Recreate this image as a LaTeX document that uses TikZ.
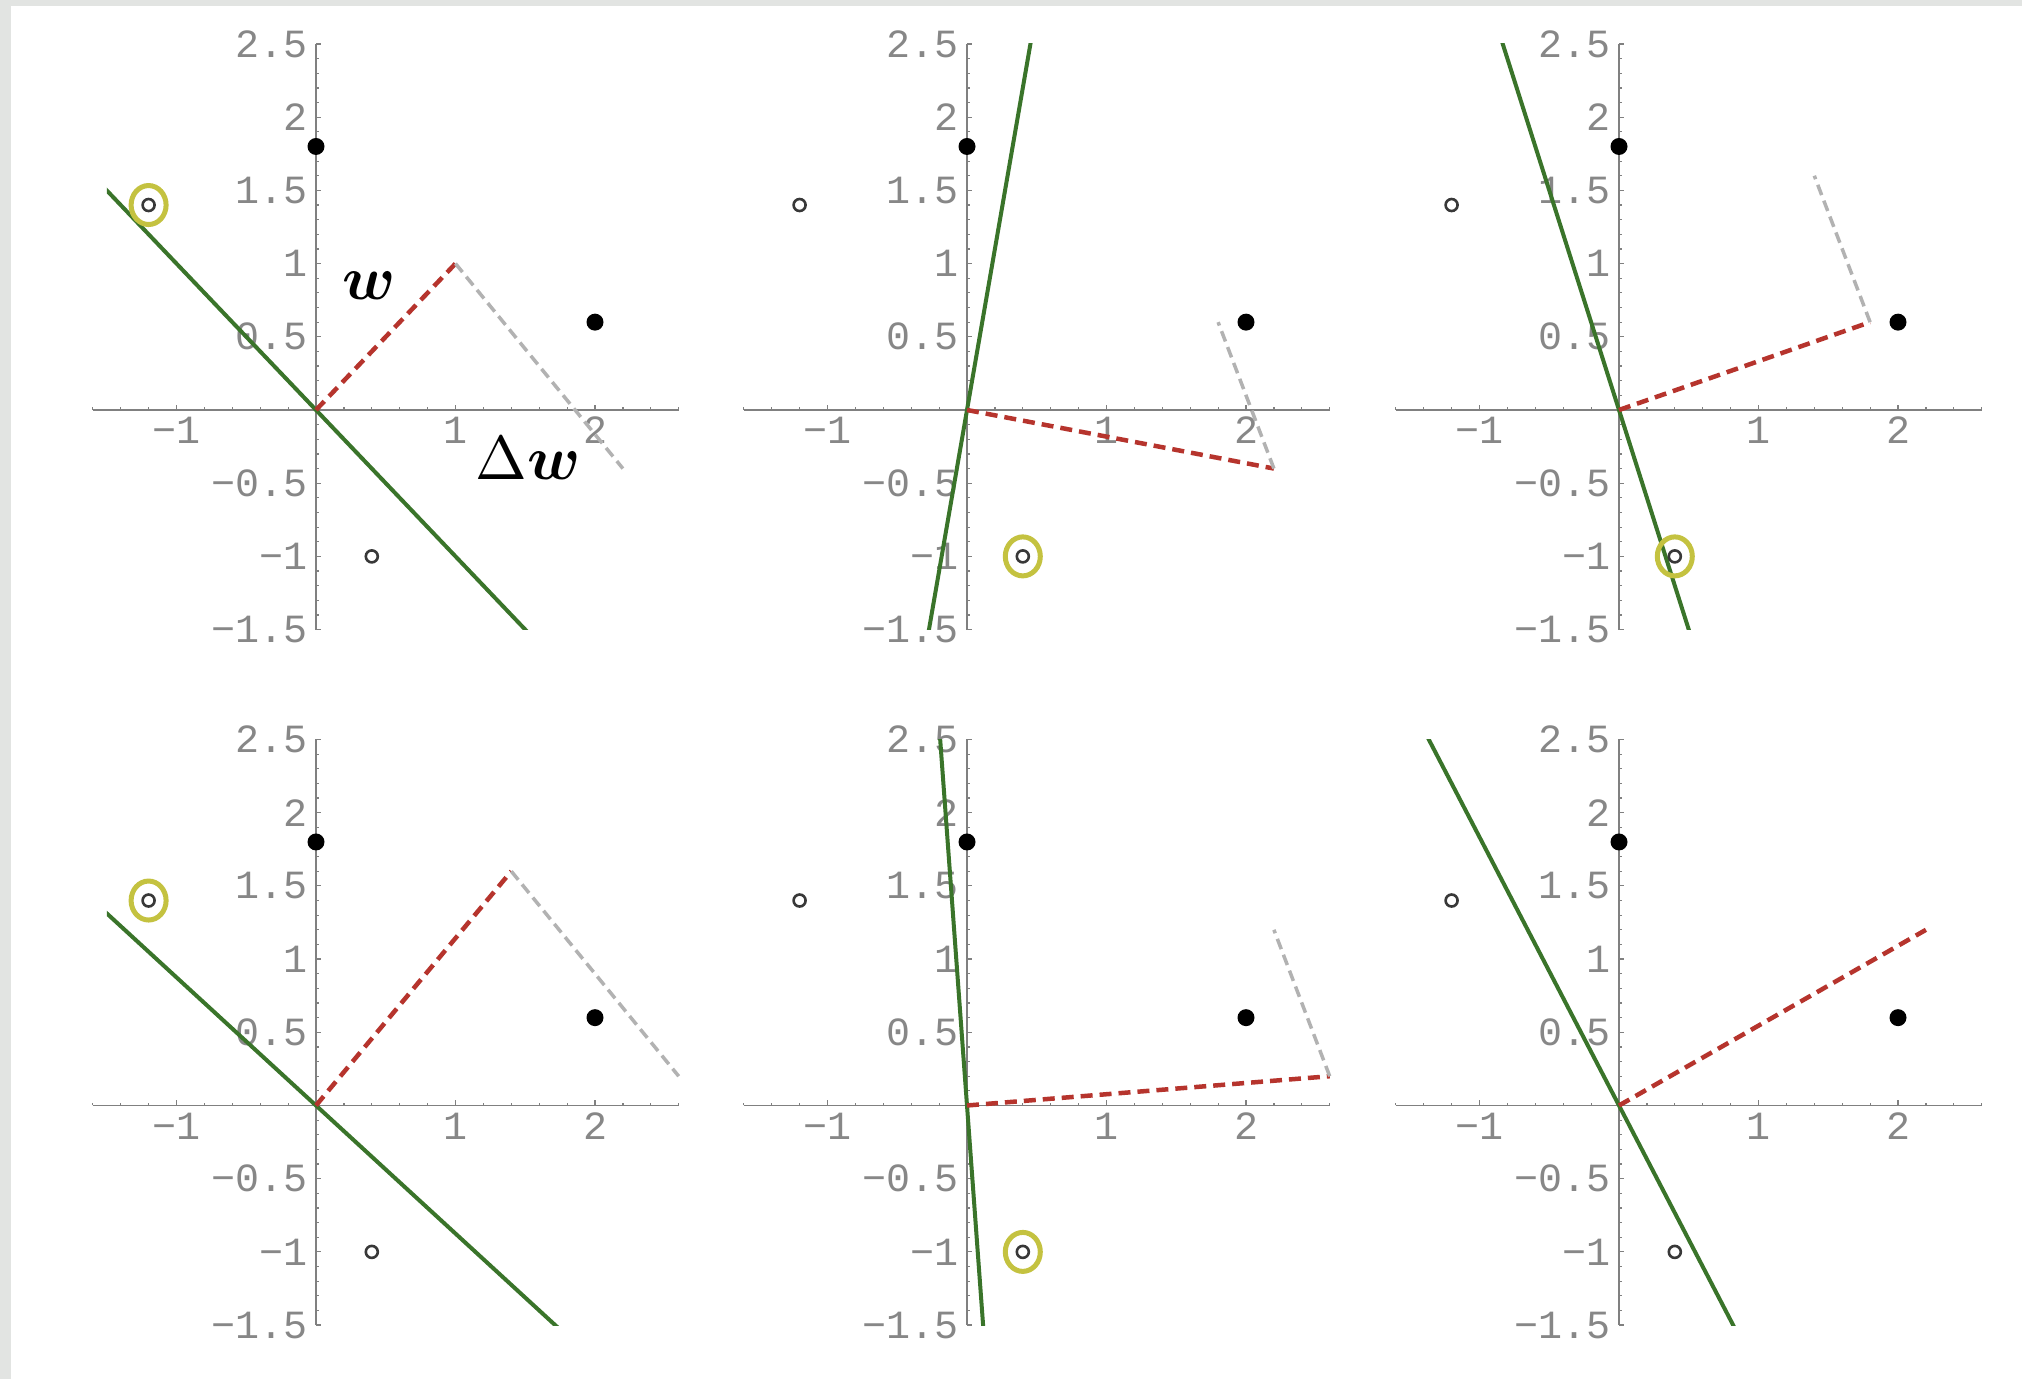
\documentclass[tikz,border=0pt]{standalone}
\usepackage{fontspec}
\usepackage{bm}
\usetikzlibrary{shapes.geometric}
\newfontfamily\tickfont{Liberation Mono}
\definecolor{bggray}{RGB}{226,228,226}
\definecolor{axisgray}{RGB}{128,128,128}
\definecolor{labelgray}{RGB}{135,135,135}
\definecolor{linegreen}{RGB}{58,116,42}
\definecolor{wred}{RGB}{182,52,45}
\definecolor{dwgray}{RGB}{178,178,178}
\definecolor{ringyellow}{RGB}{196,194,64}
\tikzset{
  axisline/.style={draw=axisgray, line width=1.8pt},
  tickmark/.style={draw=axisgray, line width=1.2pt},
  xticklabel/.style={font=\tickfont\fontsize{40}{48}\selectfont, text=labelgray, anchor=base, inner sep=0pt, yshift=-34pt},
  yticklabel/.style={font=\tickfont\fontsize{40}{48}\selectfont, text=labelgray, anchor=east, inner sep=0pt, xshift=-8pt},
  boundary/.style={draw=linegreen, line width=4pt},
  wvec/.style={draw=wred, line width=4.5pt, dash pattern=on 12pt off 7pt},
  dwvec/.style={draw=dwgray, line width=3.5pt, dash pattern=on 11pt off 6pt},
  posdot/.style={circle, fill=black, minimum size=17pt, inner sep=0pt},
  negdot/.style={circle, draw=black!78, fill=white, line width=2.6pt, minimum size=12pt, inner sep=0pt},
  highlight/.style={ellipse, draw=ringyellow, line width=5pt, minimum width=35pt, minimum height=39pt, inner sep=0pt},
  bigmath/.style={inner sep=0pt, scale=6.2},
}
% #1 prefix, #2 wx, #3 wy
\newcommand\panelbody[3]{%
  \draw[axisline] (-1.6,0) -- (2.6,0);
  \draw[axisline] (0,-1.5) -- (0,2.5);
  \foreach \i in {-8,...,13} \draw[tickmark] (\i/5,0) -- ++(0pt,2.5pt);
  \foreach \i in {-1,1,2} \draw[tickmark] (\i,0) -- ++(0pt,5pt);
  \foreach \i in {-15,...,25} \draw[tickmark] (0,\i/10) -- ++(2.5pt,0pt);
  \foreach \i in {-3,...,5} \draw[tickmark] (0,\i/2) -- ++(5pt,0pt);
  \foreach \v/\s [count=\k] in {-1/−1, 1/1, 2/2}
    \node[xticklabel] (#1-x\k) at (\v,0) {\s};
  \foreach \v/\s [count=\k] in {2.5/2.5, 2/2, 1.5/1.5, 1/1, 0.5/0.5, -0.5/−0.5, -1/−1, -1.5/−1.5}
    \node[yticklabel] (#1-y\k) at (0,\v) {\s};
  \begin{scope}
    \clip (-1.5,-1.5) rectangle (2.6,2.5);
    \coordinate (#1-g1) at ({3*(#3)},{-3*(#2)});
    \coordinate (#1-g2) at ({-3*(#3)},{3*(#2)});
    \draw[boundary] (#1-g1) -- (#1-g2);
  \end{scope}
  \coordinate (#1-o) at (0,0);
  \coordinate (#1-w) at (#2,#3);
  \draw[wvec] (#1-o) -- (#1-w);
}
\newcommand\paneldots[1]{%
  \node[posdot] (#1-pa) at (0,1.8) {};
  \node[posdot] (#1-pb) at (2,0.6) {};
  \node[negdot] (#1-na) at (-1.2,1.4) {};
  \node[negdot] (#1-nb) at (0.4,-1) {};
}
\begin{document}
\begin{tikzpicture}[x=1pt,y=1pt]
\useasboundingbox (0,0) rectangle (2022,1379);
\fill[bggray] (0,0) rectangle (2022,1379);
\fill[white] (11,0) rectangle (2022,1373);

% panel 1
\begin{scope}[shift={(316,969)}, x=139.5pt, y=146.4pt]
  \panelbody{p1}{1}{1}
  \coordinate (p1-n) at (2.2,-0.4);
  \draw[dwvec] (p1-w) -- (p1-n);
  \node[highlight] (p1-ring) at (-1.2,1.4) {};
  \paneldots{p1}
  \node[bigmath] (lblw) at (0.38,0.85) {$\bm{w}$};
  \node[bigmath] (lbldw) at (1.52,-0.33) {$\Delta\bm{w}$};
\end{scope}

% panel 2
\begin{scope}[shift={(967,969)}, x=139.5pt, y=146.4pt]
  \panelbody{p2}{2.2}{-0.4}
  \coordinate (p2-n) at (1.8,0.6);
  \draw[dwvec] (p2-w) -- (p2-n);
  \node[highlight] (p2-ring) at (0.4,-1) {};
  \paneldots{p2}
\end{scope}

% panel 3
\begin{scope}[shift={(1619,969)}, x=139.5pt, y=146.4pt]
  \panelbody{p3}{1.8}{0.6}
  \coordinate (p3-n) at (1.4,1.6);
  \draw[dwvec] (p3-w) -- (p3-n);
  \node[highlight] (p3-ring) at (0.4,-1) {};
  \paneldots{p3}
\end{scope}

% panel 4
\begin{scope}[shift={(316,273.5)}, x=139.5pt, y=146.4pt]
  \panelbody{p4}{1.4}{1.6}
  \coordinate (p4-n) at (2.6,0.2);
  \draw[dwvec] (p4-w) -- (p4-n);
  \node[highlight] (p4-ring) at (-1.2,1.4) {};
  \paneldots{p4}
\end{scope}

% panel 5
\begin{scope}[shift={(967,273.5)}, x=139.5pt, y=146.4pt]
  \panelbody{p5}{2.6}{0.2}
  \coordinate (p5-n) at (2.2,1.2);
  \draw[dwvec] (p5-w) -- (p5-n);
  \node[highlight] (p5-ring) at (0.4,-1) {};
  \paneldots{p5}
\end{scope}

% panel 6
\begin{scope}[shift={(1619,273.5)}, x=139.5pt, y=146.4pt]
  \panelbody{p6}{2.2}{1.2}
  \paneldots{p6}
\end{scope}
\end{tikzpicture}
\end{document}
